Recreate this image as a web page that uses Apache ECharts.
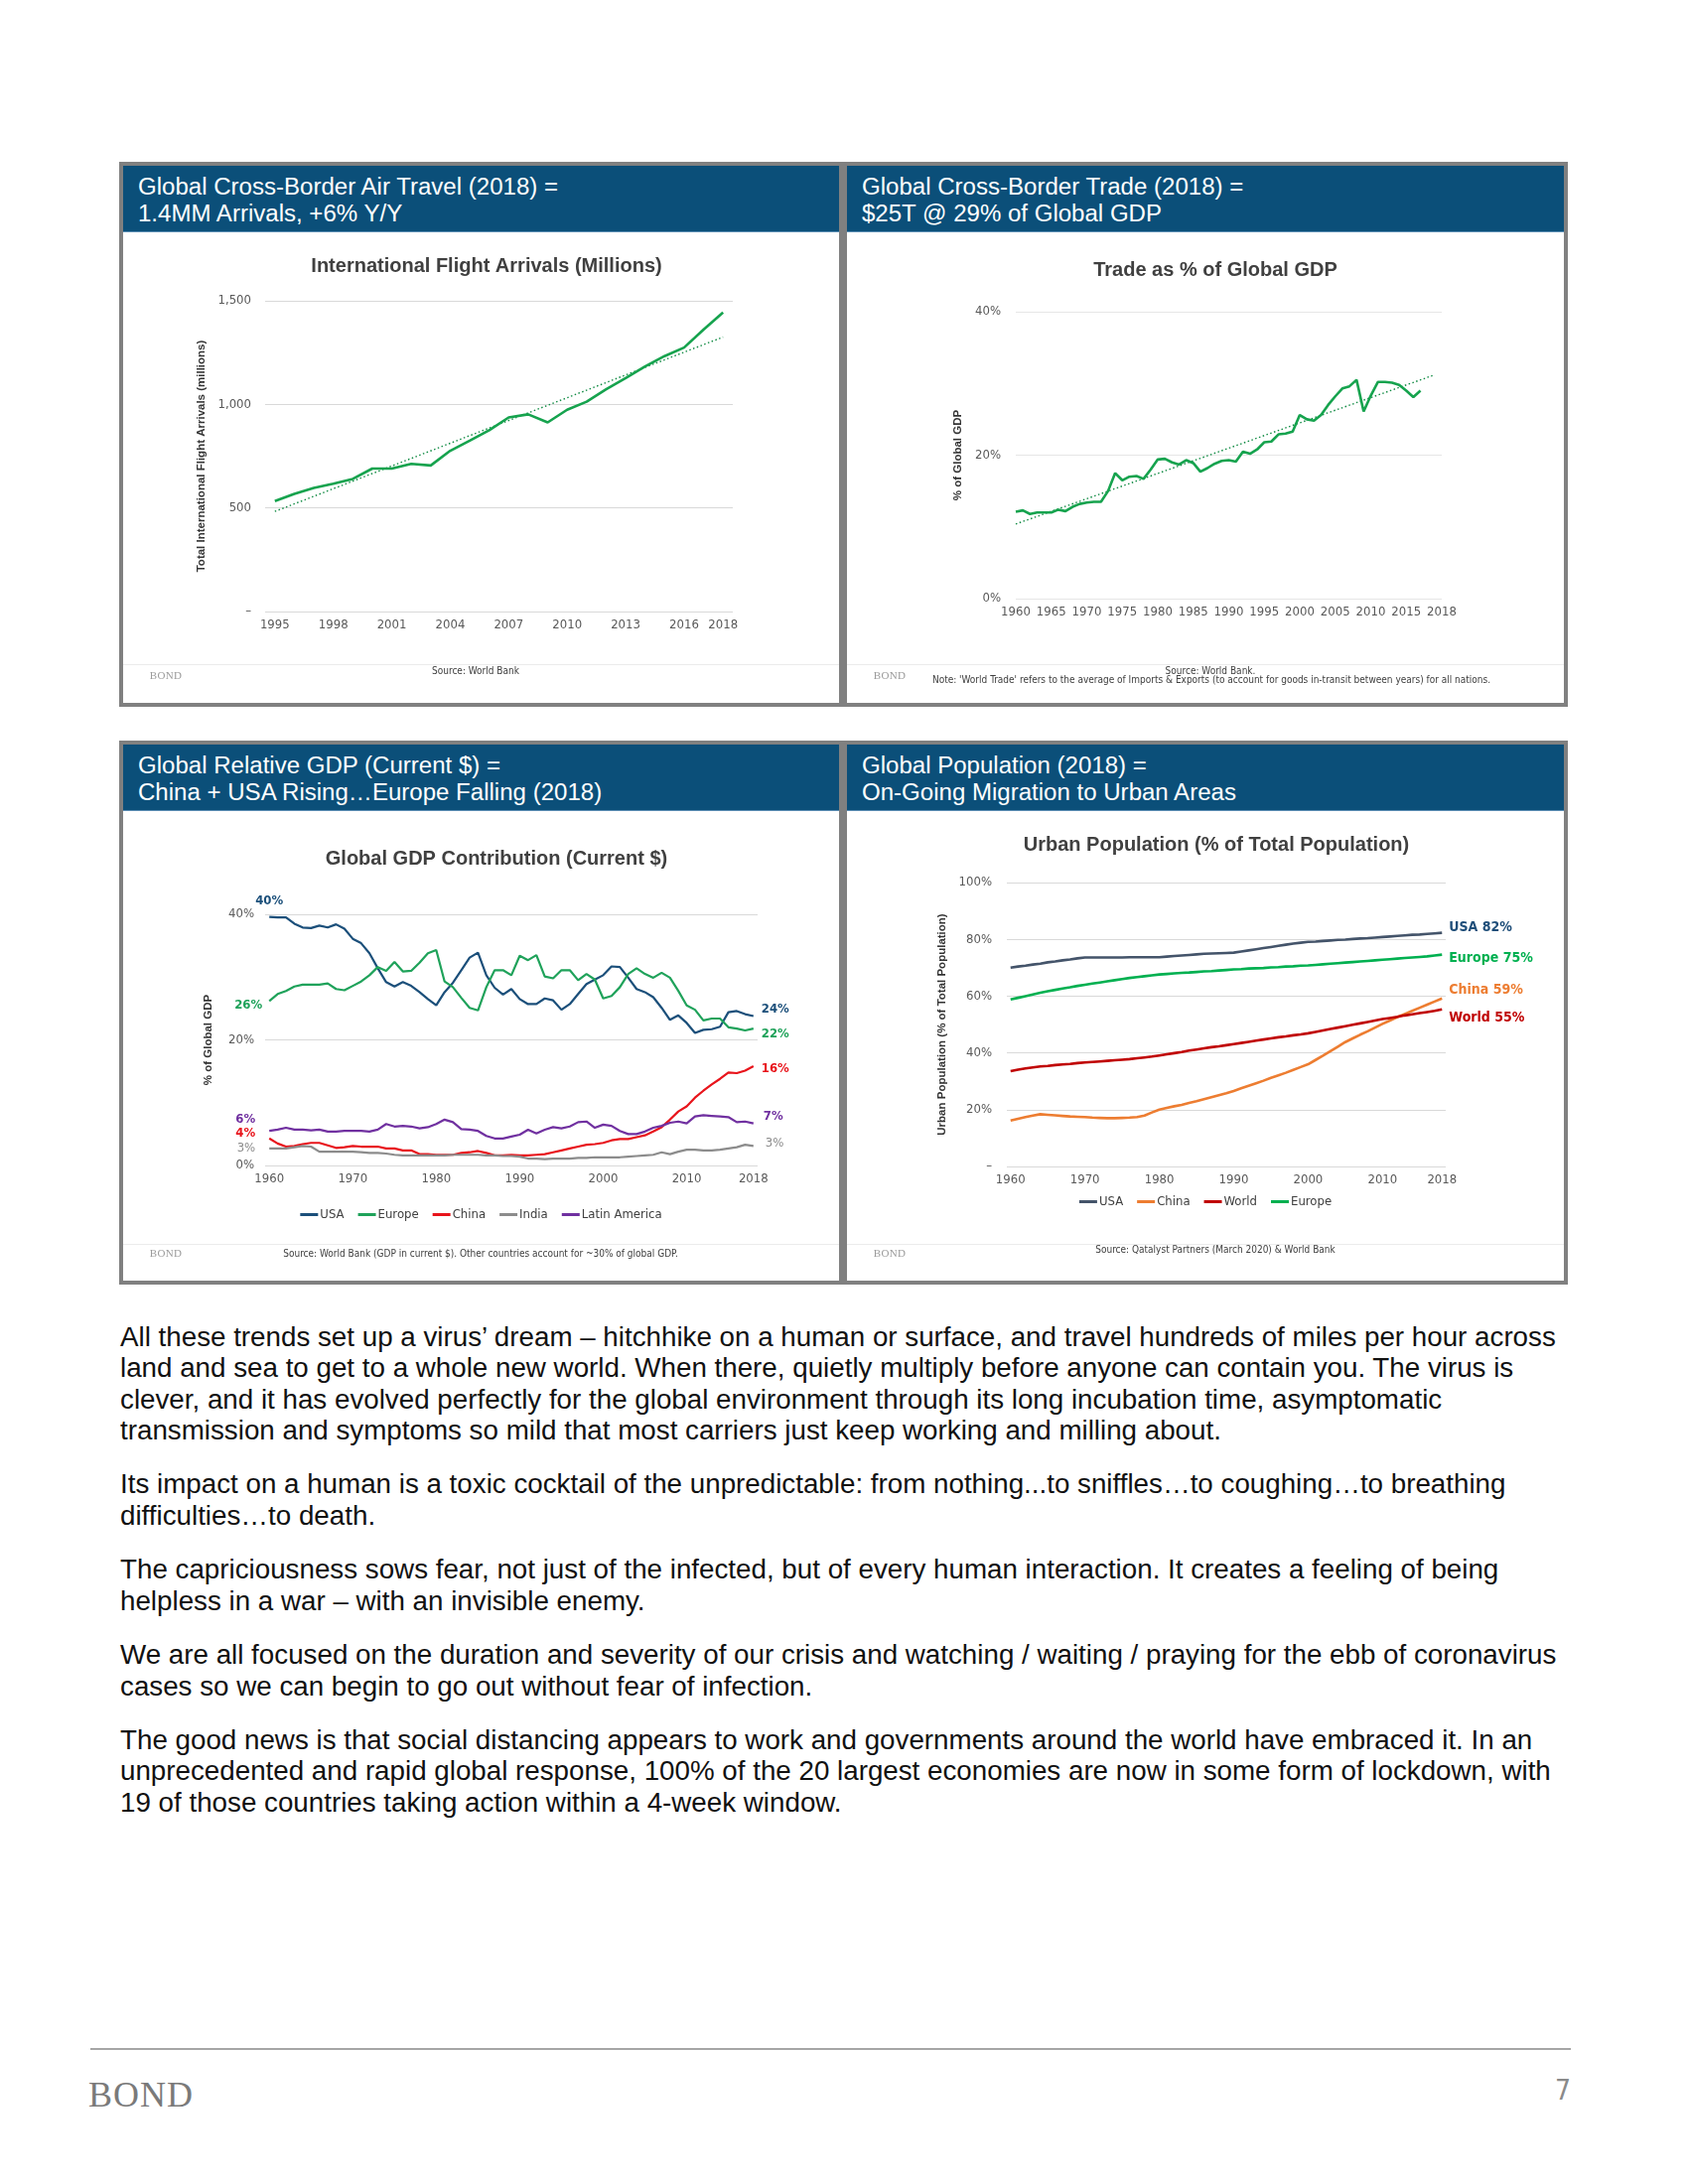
<!DOCTYPE html>
<html>
<head>
<meta charset="utf-8">
<title>BOND – Page 7</title>
<script src="https://cdn.jsdelivr.net/npm/echarts@6/dist/echarts.min.js"></script>
<style>
html,body{margin:0;padding:0;background:#fff}
body{position:relative;width:1700px;height:2200px;overflow:hidden;font-family:'Liberation Sans',Arial,sans-serif;color:#111}
.panel{position:absolute;background:#fff}
.chart{position:absolute;left:0;top:0;width:100%;height:100%}
.hdr{position:absolute;left:4px;right:4px;top:4px;height:67px;background:#0B4F79;color:#fff;font-size:24px;line-height:27px;padding:7px 0 0 15px;box-sizing:border-box;white-space:nowrap;z-index:2;border-bottom:1px solid #5b8db3}
.frame{position:absolute;left:0;top:0;right:0;bottom:0;border:4px solid #808080;z-index:3;pointer-events:none}
.sep{position:absolute;left:4px;right:4px;height:1px;background:#ebebeb;z-index:2}
.bnd{position:absolute;font-family:'Liberation Serif','DejaVu Serif',serif;font-size:11px;color:#9a9a9a;transform:translate(-50%,-50%);z-index:2;letter-spacing:0.3px}
.src{position:absolute;font-family:'Liberation Sans Narrow','Arial Narrow','DejaVu Sans Condensed',sans-serif;font-size:10px;color:#404040;transform:translate(-50%,-50%);white-space:nowrap;z-index:2}
#bodytext{position:absolute;left:121px;top:1331px;font-size:27px;line-height:31.3px;color:#111;white-space:nowrap}
#bodytext p{margin:0 0 23.3px 0}
#rule{position:absolute;left:91px;top:2063px;width:1491px;height:2px;background:#a6a6a6}
#logo{position:absolute;left:89px;top:2090px;font-family:'Liberation Serif','DejaVu Serif',serif;font-size:36px;line-height:40px;color:#7a7a7a;letter-spacing:1px}
#pageno{position:absolute;left:1566px;top:2090px;font-family:'Liberation Sans Narrow','Arial Narrow','DejaVu Sans Condensed',sans-serif;font-size:28px;line-height:32px;color:#8a8a8a}
</style>
</head>
<body>

<div class="panel" id="p1" style="left:120px;top:163px;width:729px;height:549px">
  <div class="chart" id="c1"></div>
  <div class="hdr"><span id="hfit">Global Cross-Border Air Travel (2018) =</span><br>1.4MM Arrivals, +6% Y/Y</div>
  <div class="sep" style="top:506px"></div>
  <div class="bnd" style="left:47px;top:517px">BOND</div>
  <div class="src" style="left:359px;top:512px">Source: World Bank</div>
  <div class="frame"></div>
</div>

<div class="panel" id="p2" style="left:849px;top:163px;width:730px;height:549px">
  <div class="chart" id="c2"></div>
  <div class="hdr">Global Cross-Border Trade (2018) =<br>$25T @ 29% of Global GDP</div>
  <div class="sep" style="top:506px"></div>
  <div class="bnd" style="left:47px;top:517px">BOND</div>
  <div class="src" style="left:370px;top:512px">Source: World Bank.</div>
  <div class="src" style="left:371px;top:521px">Note: 'World Trade' refers to the average of Imports &amp; Exports (to account for goods in-transit between years) for all nations.</div>
  <div class="frame"></div>
</div>

<div class="panel" id="p3" style="left:120px;top:746px;width:729px;height:548px">
  <div class="chart" id="c3"></div>
  <div class="hdr">Global Relative GDP (Current $) =<br>China + USA Rising…Europe Falling (2018)</div>
  <div class="sep" style="top:507px"></div>
  <div class="bnd" style="left:47px;top:516px">BOND</div>
  <div class="src" style="left:364px;top:516px">Source: World Bank (GDP in current $). Other countries account for ~30% of global GDP.</div>
  <div class="frame"></div>
</div>

<div class="panel" id="p4" style="left:849px;top:746px;width:730px;height:548px">
  <div class="chart" id="c4"></div>
  <div class="hdr">Global Population (2018) =<br>On-Going Migration to Urban Areas</div>
  <div class="sep" style="top:507px"></div>
  <div class="bnd" style="left:47px;top:516px">BOND</div>
  <div class="src" style="left:375px;top:512px">Source: Qatalyst Partners (March 2020) &amp; World Bank</div>
  <div class="frame"></div>
</div>

<div id="bodytext">
<p><span id="firstline">All these trends set up a virus’ dream – hitchhike on a human or surface, and travel hundreds of miles per hour across</span><br>land and sea to get to a whole new world. When there, quietly multiply before anyone can contain you. The virus is<br>clever, and it has evolved perfectly for the global environment through its long incubation time, asymptomatic<br>transmission and symptoms so mild that most carriers just keep working and milling about.</p>
<p>Its impact on a human is a toxic cocktail of the unpredictable: from nothing...to sniffles…to coughing…to breathing<br>difficulties…to death.</p>
<p>The capriciousness sows fear, not just of the infected, but of every human interaction. It creates a feeling of being<br>helpless in a war – with an invisible enemy.</p>
<p>We are all focused on the duration and severity of our crisis and watching / waiting / praying for the ebb of coronavirus<br>cases so we can begin to go out without fear of infection.</p>
<p>The good news is that social distancing appears to work and governments around the world have embraced it. In an<br>unprecedented and rapid global response, 100% of the 20 largest economies are now in some form of lockdown, with<br>19 of those countries taking action within a 4-week window.</p>
</div>

<div id="rule"></div>
<div id="logo">BOND</div>
<div id="pageno">7</div>

<script>
// ---------------- DATA ----------------
// Chart 1: International flight arrivals (millions)
const flightYears = ['1995','1996','1997','1998','1999','2000','2001','2002','2003','2004','2005','2006','2007','2008','2009','2010','2011','2012','2013','2014','2015','2016','2017','2018'];
const flightArrivals = [533,568,597,617,640,690,690,713,705,776,825,875,937,952,913,974,1013,1073,1127,1183,1233,1274,1361,1444];
const flightTrendEnds = [483, 1325];
const flightLabelYears = ['1995','1998','2001','2004','2007','2010','2013','2016','2018'];

// Chart 2: Trade as % of global GDP
const tradeYears = [1960,1961,1962,1963,1964,1965,1966,1967,1968,1969,1970,1971,1972,1973,1974,1975,1976,1977,1978,1979,1980,1981,1982,1983,1984,1985,1986,1987,1988,1989,1990,1991,1992,1993,1994,1995,1996,1997,1998,1999,2000,2001,2002,2003,2004,2005,2006,2007,2008,2009,2010,2011,2012,2013,2014,2015,2016,2017];
const tradePct = [12.1,12.3,11.8,12.0,12.0,12.0,12.4,12.2,12.8,13.2,
  13.4,13.5,13.5,15.0,17.5,16.5,17.0,17.1,16.7,18.0,
  19.4,19.5,19.0,18.7,19.3,18.9,17.7,18.2,18.8,19.2,
  19.3,19.1,20.5,20.2,20.8,21.8,21.9,22.9,23.0,23.3,
  25.6,25.0,24.8,25.6,27.0,28.2,29.3,29.6,30.5,26.1,
  28.3,30.2,30.2,30.1,29.8,29.0,28.1,29.0];
const tradeTrend = [[1960,10.4],[2019,31.2]];
const tradeTickLabels = ['1960','1965','1970','1975','1980','1985','1990','1995','2000','2005','2010','2015','2018'];

// Chart 3: Global GDP contribution (current $), %
const gdpYears = ['1960','1961','1962','1963','1964','1965','1966','1967','1968','1969','1970','1971','1972','1973','1974','1975','1976','1977','1978','1979','1980','1981','1982','1983','1984','1985','1986','1987','1988','1989','1990','1991','1992','1993','1994','1995','1996','1997','1998','1999','2000','2001','2002','2003','2004','2005','2006','2007','2008','2009','2010','2011','2012','2013','2014','2015','2016','2017','2018'];
const gdpUSA = [39.6,39.5,39.5,38.5,37.9,37.8,38.2,37.9,38.4,37.7,
  36.1,35.4,33.8,31.4,29.2,28.5,29.2,28.6,27.6,26.5,
  25.5,27.6,29.1,31.1,33.1,33.9,30.3,28.3,27.2,28.1,
  26.5,25.7,25.7,26.6,26.3,24.8,25.7,27.3,28.9,29.6,
  30.3,31.7,31.6,29.9,28.1,27.6,26.8,25.1,23.2,23.9,
  22.7,21.1,21.6,21.7,22.1,24.4,24.6,24.1,23.8];
const gdpEurope = [26.2,27.3,27.8,28.5,28.8,28.8,28.8,29.0,28.1,27.9,
  28.6,29.3,30.3,31.6,31.0,32.4,30.9,31.0,32.3,33.8,
  34.3,29.3,28.4,26.7,25.1,24.7,28.4,31.1,31.1,30.3,
  33.4,32.7,33.5,30.1,29.8,31.1,31.1,29.5,30.5,29.6,
  26.6,27.0,28.4,30.5,31.4,30.5,29.9,30.7,29.9,27.8,
  25.5,24.8,23.1,23.4,23.4,22.0,21.8,21.5,21.8];
const gdpChina = [4.3,3.5,3.0,3.1,3.4,3.6,3.6,3.2,2.8,2.9,
  3.1,3.0,3.0,3.0,2.7,2.7,2.4,2.4,1.8,1.8,
  1.7,1.7,1.7,2.0,2.1,2.3,2.0,1.6,1.6,1.7,
  1.6,1.6,1.7,1.8,2.1,2.4,2.7,3.0,3.3,3.4,
  3.6,4.0,4.2,4.2,4.5,4.8,5.4,6.1,7.3,8.6,
  9.4,10.8,11.9,12.9,13.8,14.8,14.7,15.1,15.8];
const gdpIndia = [2.7,2.7,2.7,2.9,3.1,3.0,2.2,2.2,2.2,2.2,
  2.2,2.1,2.0,2.0,1.9,1.7,1.6,1.6,1.6,1.6,
  1.6,1.6,1.7,1.7,1.7,1.7,1.6,1.6,1.5,1.5,
  1.4,1.1,1.1,1.0,1.1,1.1,1.1,1.2,1.2,1.3,
  1.3,1.3,1.3,1.4,1.5,1.6,1.7,2.1,1.8,2.2,
  2.5,2.5,2.4,2.4,2.5,2.7,2.9,3.3,3.1];
const gdpLatAm = [5.5,5.7,6.0,5.7,5.7,5.6,5.7,5.4,5.4,5.5,
  5.5,5.5,5.4,5.7,6.6,6.2,6.3,6.2,5.9,6.1,
  6.6,7.3,6.9,5.8,5.7,5.5,4.7,4.3,4.3,4.6,
  4.9,5.7,5.1,5.7,6.1,5.9,6.2,6.9,7.0,6.0,
  6.5,6.3,5.5,5.0,5.0,5.4,6.0,6.3,6.8,7.0,
  6.7,7.8,8.0,7.9,7.8,7.7,6.9,7.0,6.7];
const gdpSeriesNames = ['USA','Europe','China','India','Latin America'];
const gdpStartLabels = ['40%','26%','4%','3%','6%'];
const gdpEndLabels = ['24%','22%','16%','3%','7%'];
const gdpLabelYears = ['1960','1970','1980','1990','2000','2010','2018'];

// Chart 4: Urban population (% of total population)
const urbanYears = gdpYears.slice();
const urbanUSA = [70.0,70.4,70.7,71.1,71.4,71.9,72.2,72.6,72.9,73.3,
  73.6,73.6,73.6,73.6,73.6,73.6,73.7,73.7,73.7,73.7,
  73.7,73.9,74.1,74.3,74.5,74.7,74.9,75.0,75.1,75.2,
  75.3,75.7,76.1,76.5,76.9,77.3,77.7,78.1,78.5,78.8,
  79.1,79.2,79.4,79.6,79.8,79.9,80.1,80.3,80.4,80.6,
  80.8,81.0,81.2,81.4,81.6,81.7,81.9,82.1,82.3];
const urbanChina = [16.2,16.8,17.4,17.9,18.4,18.2,18.0,17.8,17.6,17.5,
  17.4,17.2,17.1,17.0,17.0,17.1,17.2,17.4,17.9,19.0,
  20.0,20.6,21.2,21.7,22.4,23.0,23.7,24.4,25.1,25.8,
  26.6,27.5,28.4,29.3,30.2,31.2,32.1,33.0,34.0,35.0,
  36.0,37.5,39.0,40.6,42.2,43.8,45.1,46.4,47.6,48.9,
  50.2,51.4,52.6,53.7,54.8,55.9,57.0,58.1,59.2];
const urbanWorld = [33.6,34.1,34.5,34.9,35.2,35.4,35.7,35.9,36.1,36.4,
  36.6,36.8,37.0,37.2,37.4,37.6,37.8,38.1,38.4,38.7,
  39.1,39.5,39.9,40.3,40.8,41.2,41.6,42.0,42.3,42.7,
  43.1,43.5,43.9,44.3,44.7,45.1,45.5,45.8,46.2,46.5,
  46.9,47.4,47.9,48.4,48.9,49.4,49.9,50.4,50.9,51.4,
  51.9,52.3,52.7,53.2,53.6,54.0,54.4,54.8,55.3];
const urbanEurope = [58.8,59.4,60.0,60.6,61.2,61.7,62.2,62.7,63.1,63.6,
  64.0,64.4,64.8,65.2,65.6,66.0,66.4,66.7,67.0,67.3,
  67.6,67.8,68.0,68.2,68.3,68.5,68.7,68.8,69.0,69.2,
  69.4,69.5,69.7,69.8,69.9,70.1,70.2,70.4,70.5,70.7,
  70.8,71.0,71.2,71.4,71.6,71.8,72.0,72.2,72.4,72.6,
  72.8,73.0,73.2,73.4,73.6,73.8,74.0,74.3,74.6];
const urbanSeriesNames = ['USA','China','World','Europe'];
const urbanEndLabels = ['USA 82%','China 59%','World 55%','Europe 75%'];
const urbanLabelYears = ['1960','1970','1980','1990','2000','2010','2018'];

// ---------------- STYLE ----------------
const FONT = "'Liberation Sans', Arial, sans-serif";
const NARROW = "'Liberation Sans Narrow','Arial Narrow','DejaVu Sans Condensed',sans-serif";
const LBL = '#595959';
const GRIDC = '#d9d9d9';
const TITLEC = '#404040';
const GREEN = '#16A34E';
const TREND = '#0F8A42';

// fit body + header text to reference widths
(function(){
  const b = document.getElementById('bodytext');
  const w = document.getElementById('firstline').getBoundingClientRect().width;
  b.style.fontSize = (27 * 1446 / w).toFixed(2) + 'px';
  const h = document.getElementById('hfit').getBoundingClientRect().width;
  const hs = (24 * 423 / h).toFixed(2) + 'px';
  document.querySelectorAll('.hdr').forEach(e => e.style.fontSize = hs);
})();

function titleOpt(text, cx, cy){
  return {text, left: cx, top: cy - 11, textAlign: 'center', padding: 0,
    textStyle:{fontFamily: FONT, fontSize: 20, fontWeight: 'bold', color: TITLEC}};
}
function yName(text, gap){
  return {name: text, nameLocation: 'middle', nameGap: gap,
    nameTextStyle:{fontFamily: FONT, fontSize: 11.5, fontWeight: 'bold', color: '#333'}};
}
const axLbl = (extra) => Object.assign({color: LBL, fontSize: 13, fontFamily: NARROW}, extra || {});

// ---------------- CHART 1 ----------------
const c1 = echarts.init(document.getElementById('c1'));
c1.setOption({
  animation: false,
  textStyle:{fontFamily: FONT},
  title: titleOpt('International Flight Arrivals (Millions)', 370, 106),
  grid:{left:147, right:111, top:140, bottom:96},
  xAxis:{type:'category', data: flightYears, boundaryGap: true,
    axisLine:{show:false}, axisTick:{show:false},
    axisLabel: axLbl({interval: (i, v) => flightLabelYears.includes(v), margin: 7})},
  yAxis: Object.assign({type:'value', min:0, max:1500, interval:500,
    axisLine:{show:false}, axisTick:{show:false},
    axisLabel: axLbl({margin: 14, formatter: v => v === 0 ? '–' : v.toLocaleString('en-US')}),
    splitLine:{lineStyle:{color: GRIDC}}}, yName('Total International Flight Arrivals (millions)', 56)),
  series:[
    {type:'line', data: flightArrivals, symbol:'none', lineStyle:{color: GREEN, width: 2.6}, z: 3},
    {type:'line', data: flightYears.map((y, i) => i === 0 ? flightTrendEnds[0] : (i === flightYears.length - 1 ? flightTrendEnds[1] : null)),
      connectNulls: true, symbol:'none', lineStyle:{color: TREND, width: 1.4, type: [1.5, 2.5]}, z: 2}
  ]
});

// ---------------- CHART 2 ----------------
const c2 = echarts.init(document.getElementById('c2'));
c2.setOption({
  animation: false,
  textStyle:{fontFamily: FONT},
  title: titleOpt('Trade as % of Global GDP', 375, 110),
  grid:{left:174, right:127, top:151, bottom:109},
  xAxis:{type:'value', min:1960, max:2020, interval:5,
    axisLine:{show:false}, axisTick:{show:false}, splitLine:{show:false},
    axisLabel: axLbl({margin: 7, formatter: v => tradeTickLabels[Math.round((v - 1960) / 5)]})},
  yAxis: Object.assign({type:'value', min:0, max:40, interval:20,
    axisLine:{show:false}, axisTick:{show:false},
    axisLabel: axLbl({margin: 15, formatter: '{value}%'}),
    splitLine:{lineStyle:{color: '#e6e6e6'}}}, yName('% of Global GDP', 52)),
  series:[
    {type:'line', data: tradeYears.map((y, i) => [y, tradePct[i]]), symbol:'none', lineStyle:{color: GREEN, width: 2.6}, z: 3},
    {type:'line', data: tradeTrend, symbol:'none', lineStyle:{color: TREND, width: 1.4, type: [1.5, 2.5]}, z: 2}
  ]
});

// ---------------- CHART 3 ----------------
const gdpData = [gdpUSA, gdpEurope, gdpChina, gdpIndia, gdpLatAm];
const gdpColors = ['#1B4F7A', '#1FA25A', '#E8141B', '#8C8C8C', '#7030A0'];
const gdpLabelColors = ['#1B4F7A', '#1FA25A', '#E8141B', '#8C8C8C', '#7030A0'];
const gdpStartPos = [
  {position:'top', distance: 9, offset:[0,0]},
  {position:'left', distance: 7, offset:[0,4]},
  {position:'left', distance: 14, offset:[0,-5]},
  {position:'left', distance: 14, offset:[0,0]},
  {position:'left', distance: 14, offset:[0,-12]}
];
const gdpEndOffsets = [[0,-7],[0,6],[0,3],[4,-3],[2,-7]];
const c3 = echarts.init(document.getElementById('c3'));
c3.setOption({
  animation: false,
  textStyle:{fontFamily: FONT},
  title: titleOpt('Global GDP Contribution (Current $)', 380, 120),
  grid:{left:147, right:86, top:175, bottom:120},
  legend:{left:'center', top:471, padding:[0,0,0,17], icon:'rect', itemWidth:18, itemHeight:3, itemGap:14,
    data: gdpSeriesNames, textStyle:{fontFamily: NARROW, fontSize: 13, color:'#404040', padding:[0,0,0,-3]}},
  xAxis:{type:'category', data: gdpYears, boundaryGap: true,
    axisLine:{show:false}, axisTick:{show:false},
    axisLabel: axLbl({interval: (i, v) => gdpLabelYears.includes(v), margin: 7})},
  yAxis: Object.assign({type:'value', min:0, max:40, interval:20,
    axisLine:{show:false}, axisTick:{show:false},
    axisLabel: axLbl({margin: 11, formatter: '{value}%'}),
    splitLine:{lineStyle:{color: GRIDC}}}, yName('% of Global GDP', 51)),
  series: gdpSeriesNames.map((name, k) => ({
    name, type:'line', data: gdpData[k], symbol:'none',
    lineStyle:{color: gdpColors[k], width: 2.2}, itemStyle:{color: gdpColors[k]},
    endLabel:{show:true, formatter: gdpEndLabels[k], distance: 8, offset: gdpEndOffsets[k],
      color: gdpLabelColors[k], fontFamily: NARROW, fontSize: 13, fontWeight: k === 3 ? 'normal' : 'bold'},
    markPoint:{symbol:'circle', symbolSize: 0, silent: true,
      data:[{coord:[gdpYears[0], gdpData[k][0]],
        label: Object.assign({show:true, formatter: gdpStartLabels[k], color: gdpLabelColors[k],
          fontFamily: NARROW, fontSize: 13, fontWeight: k === 3 ? 'normal' : 'bold'}, gdpStartPos[k])}]}
  }))
});

// ---------------- CHART 4 ----------------
const urbanData = [urbanUSA, urbanChina, urbanWorld, urbanEurope];
const urbanColors = ['#44546A', '#ED7D31', '#C00000', '#00B050'];
const urbanLabelColors = ['#1F4E79', '#ED7D31', '#C00000', '#00B050'];
const urbanEndOffsets = [[0,-5],[0,-8],[0,9],[0,4]];
const c4 = echarts.init(document.getElementById('c4'));
c4.setOption({
  animation: false,
  textStyle:{fontFamily: FONT},
  title: titleOpt('Urban Population (% of Total Population)', 376, 106),
  grid:{left:165, right:123, top:143, bottom:119},
  legend:{left:'center', top:458, padding:[0,0,0,16], icon:'rect', itemWidth:18, itemHeight:3, itemGap:14,
    data: urbanSeriesNames, textStyle:{fontFamily: NARROW, fontSize: 13, color:'#404040', padding:[0,0,0,-3]}},
  xAxis:{type:'category', data: urbanYears, boundaryGap: true,
    axisLine:{show:false}, axisTick:{show:false},
    axisLabel: axLbl({interval: (i, v) => urbanLabelYears.includes(v), margin: 7})},
  yAxis: Object.assign({type:'value', min:0, max:100, interval:20,
    axisLine:{show:false}, axisTick:{show:false},
    axisLabel: axLbl({margin: 15, formatter: v => v === 0 ? '–' : v + '%'}),
    splitLine:{lineStyle:{color: GRIDC}}}, yName('Urban Population (% of Total Population)', 56)),
  series: urbanSeriesNames.map((name, k) => ({
    name, type:'line', data: urbanData[k], symbol:'none',
    lineStyle:{color: urbanColors[k], width: 2.6}, itemStyle:{color: urbanColors[k]},
    endLabel:{show:true, formatter: urbanEndLabels[k], distance: 7, offset: urbanEndOffsets[k],
      color: urbanLabelColors[k], fontFamily: NARROW, fontSize: 14, fontWeight: 'bold'}
  }))
});
</script>
</body>
</html>
